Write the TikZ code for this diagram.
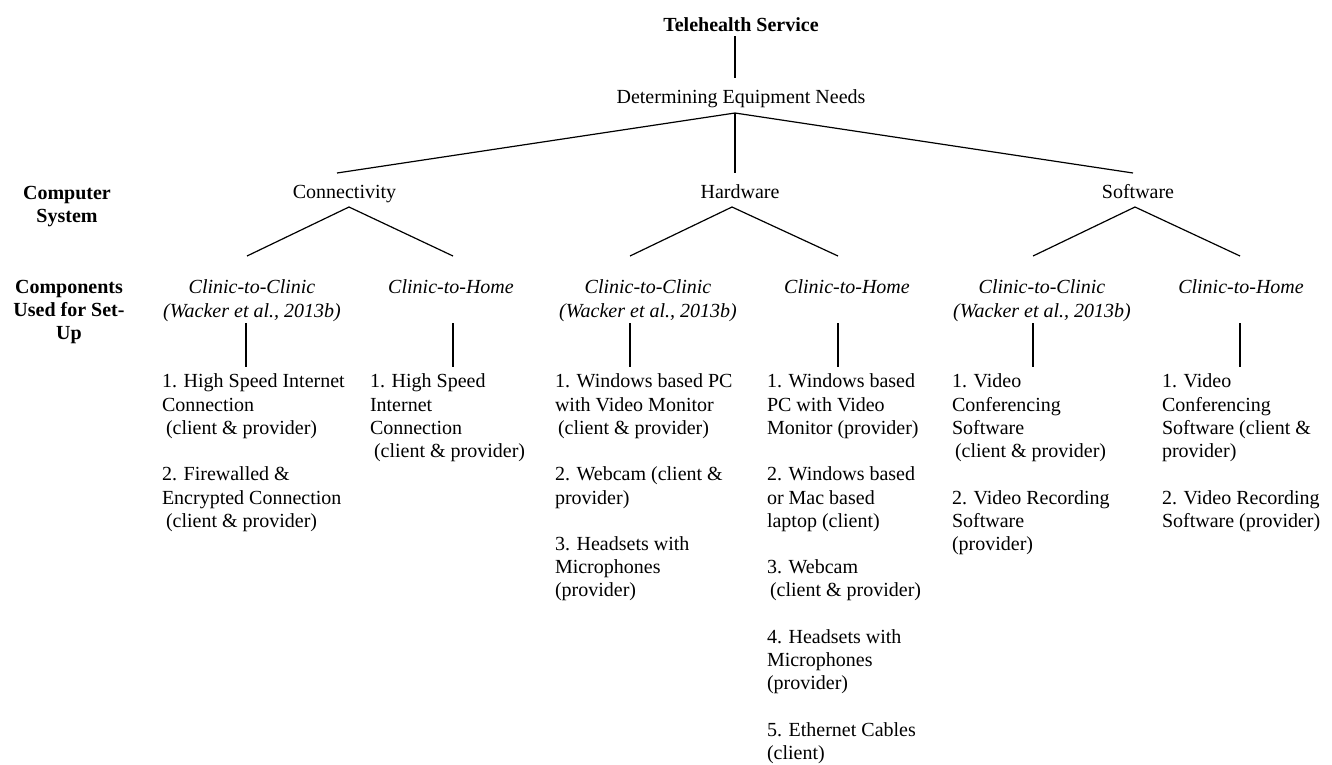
\documentclass[tikz,border=0pt]{standalone}
\usepackage{fontspec}
\setmainfont{Liberation Serif}

\begin{document}
\begin{tikzpicture}[x=1pt,y=-1pt]
\tikzset{basenoeud/.style={inner sep=0pt, outer sep=0pt, font=\fontsize{20pt}{23.3pt}\selectfont},
  unnoeud/.style={basenoeud, anchor=north, text height=13.5pt, text depth=4.5pt},
  titrenoeud/.style={unnoeud, font=\fontsize{20pt}{23.3pt}\selectfont\bfseries},
  grasnoeud/.style={basenoeud, anchor=north, align=center, font=\fontsize{20pt}{23.3pt}\selectfont\bfseries},
  casnoeud/.style={basenoeud, anchor=north, align=center, font=\fontsize{20pt}{23.3pt}\selectfont\itshape},
  listenoeud/.style={basenoeud, anchor=north west, align=left},
  lien/.style={line width=1.2pt},
  tige/.style={line width=1.7pt}}
\useasboundingbox (0,0) rectangle (1332,764);
% tree
\node[titrenoeud] (T) at (741,18) {Telehealth Service};
\node[unnoeud] (D) at (741,90) {Determining Equipment Needs};
\node[unnoeud] (C) at (344.5,185) {Connectivity};
\node[unnoeud] (H) at (740,185) {Hardware};
\node[unnoeud] (S) at (1138,185) {Software};
\node[casnoeud] (CC) at (252,280) {Clinic-to-Clinic\\(Wacker et al., 2013b)};
\node[casnoeud] (CH) at (451,280) {Clinic-to-Home};
\node[casnoeud] (HC) at (648,280) {Clinic-to-Clinic\\(Wacker et al., 2013b)};
\node[casnoeud] (HH) at (847,280) {Clinic-to-Home};
\node[casnoeud] (SC) at (1042,280) {Clinic-to-Clinic\\(Wacker et al., 2013b)};
\node[casnoeud] (SH) at (1241,280) {Clinic-to-Home};
% row labels
\node[grasnoeud] (R1) at (67,186) {Computer\\System};
\node[grasnoeud] (R2) at (69,280) {Components\\Used for Set-\\Up};
% lists
\node[listenoeud] (L1) at (162,374) {1. High Speed Internet\\Connection\\\hspace{4pt}(client \& provider)\\[23pt]2. Firewalled \&\\Encrypted Connection\\\hspace{4pt}(client \& provider)};
\node[listenoeud] (L2) at (370,374) {1. High Speed\\Internet\\Connection\\\hspace{4pt}(client \& provider)};
\node[listenoeud] (L3) at (555,374) {1. Windows based PC\\with Video Monitor\\\hspace{3pt}(client \& provider)\\[23pt]2. Webcam (client \&\\provider)\\[23pt]3. Headsets with\\Microphones\\(provider)};
\node[listenoeud] (L4) at (767,374) {1. Windows based\\PC with Video\\Monitor (provider)\\[23pt]2. Windows based\\or Mac based\\laptop (client)\\[23pt]3. Webcam\\\hspace{3pt}(client \& provider)\\[23pt]4. Headsets with\\Microphones\\(provider)\\[23pt]5. Ethernet Cables\\(client)};
\node[listenoeud] (L5) at (952,374) {1. Video\\Conferencing\\Software\\\hspace{3pt}(client \& provider)\\[23pt]2. Video Recording\\Software\\(provider)};
\node[listenoeud] (L6) at (1162,374) {1. Video\\Conferencing\\Software (client \&\\provider)\\[23pt]2. Video Recording\\Software (provider)};
% connectors
\draw[tige] ([xshift=-6pt]T.south) -- ([xshift=-6pt,yshift=12pt]D.north);
\draw[lien] ([xshift=-6pt,yshift=-5pt]D.south) -- ([xshift=-7.5pt,yshift=12pt]C.north);
\draw[tige] ([xshift=-6pt,yshift=-5pt]D.south) -- ([xshift=-5pt,yshift=12pt]H.north);
\draw[lien] ([xshift=-6pt,yshift=-5pt]D.south) -- ([xshift=-5pt,yshift=12pt]S.north);
\draw[lien] ([xshift=4.5pt,yshift=-4pt]C.south) -- ([xshift=-5pt,yshift=24pt]CC.north);
\draw[lien] ([xshift=4.5pt,yshift=-4pt]C.south) -- ([xshift=2pt,yshift=24pt]CH.north);
\draw[lien] ([xshift=-8pt,yshift=-4pt]H.south) -- ([xshift=-18pt,yshift=24pt]HC.north);
\draw[lien] ([xshift=-8pt,yshift=-4pt]H.south) -- ([xshift=-9pt,yshift=24pt]HH.north);
\draw[lien] ([xshift=-3pt,yshift=-4pt]S.south) -- ([xshift=-9pt,yshift=24pt]SC.north);
\draw[lien] ([xshift=-3pt,yshift=-4pt]S.south) -- ([xshift=-1pt,yshift=24pt]SH.north);
\draw[tige] ([xshift=-6pt,yshift=-43pt]CC.north) -- ([xshift=84pt,yshift=7pt]L1.north west);
\draw[tige] ([xshift=2pt,yshift=-43pt]CH.north) -- ([xshift=83pt,yshift=7pt]L2.north west);
\draw[tige] ([xshift=-18pt,yshift=-43pt]HC.north) -- ([xshift=75pt,yshift=7pt]L3.north west);
\draw[tige] ([xshift=-9pt,yshift=-43pt]HH.north) -- ([xshift=71pt,yshift=7pt]L4.north west);
\draw[tige] ([xshift=-9pt,yshift=-43pt]SC.north) -- ([xshift=81pt,yshift=7pt]L5.north west);
\draw[tige] ([xshift=-1pt,yshift=-43pt]SH.north) -- ([xshift=78pt,yshift=7pt]L6.north west);
\end{tikzpicture}
\end{document}
